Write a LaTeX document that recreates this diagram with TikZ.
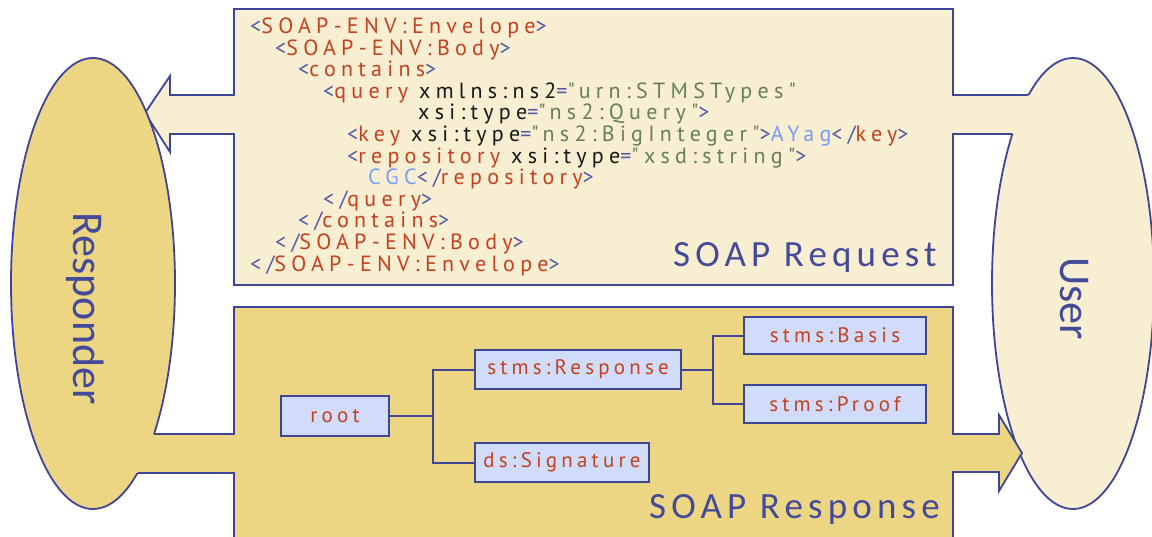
\documentclass[tikz,border=0pt]{standalone}
\usepackage{fontspec}
\setmainfont{Carlito}
\newfontfamily\codefont{PT Sans}[LetterSpace=24]
\newfontfamily\treefont{PT Sans}[LetterSpace=20]
\newfontfamily\titlefont{Carlito}[LetterSpace=14]
\definecolor{bordc}{HTML}{3F4596}
\definecolor{reqfill}{HTML}{F8EED2}
\definecolor{resfill}{HTML}{ECD684}
\definecolor{treefill}{HTML}{D0DCF9}
\definecolor{brk}{HTML}{5058A8}
\definecolor{tagred}{HTML}{C4401E}
\definecolor{attblk}{HTML}{161616}
\definecolor{strgrn}{HTML}{667D5E}
\definecolor{vallb}{HTML}{7A9CF2}
\definecolor{titleblue}{HTML}{434A9A}
\newcommand\xbr[1]{\textcolor{brk}{#1}}
\newcommand\xtg[1]{\textcolor{tagred}{#1}}
\newcommand\xat[1]{\textcolor{attblk}{#1}}
\newcommand\xst[1]{\textcolor{strgrn}{#1}}
\newcommand\xvl[1]{\textcolor{vallb}{#1}}
\tikzset{
  shapeline/.style={draw=bordc, line width=1.8pt, line join=miter},
  codeline/.style={anchor=base west, inner sep=0pt, font=\codefont\fontsize{22}{24}\selectfont},
  treebox/.style={draw=bordc, line width=2pt, fill=treefill, inner sep=0pt, text=tagred, font=\treefont\fontsize{21}{24}\selectfont},
  treeline/.style={draw=bordc, line width=2pt},
  title/.style={anchor=base west, inner sep=0pt, text=titleblue, font=\titlefont\fontsize{37}{40}\selectfont},
  actor/.style={rotate=-90, anchor=base, inner sep=0pt, text=titleblue, font=\fontsize{44}{48}\selectfont}
}
\begin{document}
\begin{tikzpicture}[x=1pt,y=-1pt]
\useasboundingbox (0,0) rectangle (1152,536);
\clip (0,0) rectangle (1152,536);
% request shape
\path[shapeline, fill=reqfill] (234,9) -- (953,9) -- (953,95) -- (1060,95) -- (1060,134) -- (953,134) -- (953,285) -- (234,285) -- (234,134) -- (170,134) -- (170,152) -- (145,113) -- (170,76) -- (170,95) -- (234,95) -- cycle;
% user ellipse
\fill[reqfill] (1073,283.5) ellipse [x radius=81, y radius=225.5];
\begin{scope}
\clip (0,0) rectangle (1152,95) (0,134) rectangle (1152,536) (1073,95) rectangle (1152,134);
\draw[shapeline] (1073,283.5) ellipse [x radius=81, y radius=225.5];
\end{scope}
% response shape
\path[shapeline, fill=resfill] (234,307) -- (953,307) -- (953,434) -- (999,434) -- (999,415) -- (1022,453) -- (999,491) -- (999,472) -- (953,472) -- (953,560) -- (234,560) -- (234,473) -- (60,473) -- (60,434) -- (234,434) -- cycle;
% responder ellipse
\fill[resfill] (93,283.5) ellipse [x radius=82, y radius=225.5];
\begin{scope}
\clip (0,0) rectangle (1152,434) (0,473) rectangle (1152,536) (0,434) rectangle (93,473);
\draw[shapeline] (93,283.5) ellipse [x radius=82, y radius=225.5];
\end{scope}
% actors
\node[actor] (responder) at (73,308.5) {Responder};
\node[actor] (user) at (1060,298.5) {User};
% code lines
\node[codeline] (l1) at (250,33.5) {\xbr{<}\xtg{SOAP-ENV:Envelope}\xbr{>}};
\node[codeline] (l2) at (275,55.1) {\xbr{<}\xtg{SOAP-ENV:Body}\xbr{>}};
\node[codeline] (l3) at (298,76.7) {\xbr{<}\xtg{contains}\xbr{>}};
\node[codeline] (l4) at (323,98.3) {\xbr{<}\xtg{query} \xat{xmlns:ns2}\xbr{=}\xst{"urn:STMSTypes"}};
\node[codeline] (l5) at (418,119.9) {\xat{xsi:type}\xbr{=}\xst{"ns2:Query"}\xbr{>}};
\node[codeline] (l6) at (347,141.5) {\xbr{<}\xtg{key} \xat{xsi:type}\xbr{=}\xst{"ns2:BigInteger"}\xbr{>}\xvl{AYag}\xbr{</}\xtg{key}\xbr{>}};
\node[codeline] (l7) at (347,163.1) {\xbr{<}\xtg{repository} \xat{xsi:type}\xbr{=}\xst{"xsd:string"}\xbr{>}};
\node[codeline] (l8) at (368,184.7) {\xvl{CGC}\xbr{</}\xtg{repository}\xbr{>}};
\node[codeline] (l9) at (323,206.3) {\xbr{</}\xtg{query}\xbr{>}};
\node[codeline] (l10) at (298,227.9) {\xbr{</}\xtg{contains}\xbr{>}};
\node[codeline] (l11) at (275,249.5) {\xbr{</}\xtg{SOAP-ENV:Body}\xbr{>}};
\node[codeline] (l12) at (250,271.1) {\xbr{</}\xtg{SOAP-ENV:Envelope}\xbr{>}};
\node[title] (reqtitle) at (673,266) {SOAP Request};
\node[title] (restitle) at (649,518) {SOAP Response};
% tree
\node[treebox, minimum width=108, minimum height=40] (root) at (335,416) {root};
\node[treebox, minimum width=206, minimum height=39] (resp) at (578,369.5) {stms:Response};
\node[treebox, minimum width=174, minimum height=39] (sig) at (562,462.5) {ds:Signature};
\node[treebox, minimum width=182, minimum height=37] (basis) at (835,335.5) {stms:Basis};
\node[treebox, minimum width=182, minimum height=38] (proof) at (835,404) {stms:Proof};
\draw[treeline] (root.east) -- ++(43,0) |- (resp.west);
\draw[treeline] (root.east) -- ++(43,0) |- (sig.west);
\draw[treeline] (resp.east) -- ++(31,0) |- (basis.west);
\draw[treeline] (resp.east) -- ++(31,0) |- (proof.west);
\end{tikzpicture}
\end{document}
